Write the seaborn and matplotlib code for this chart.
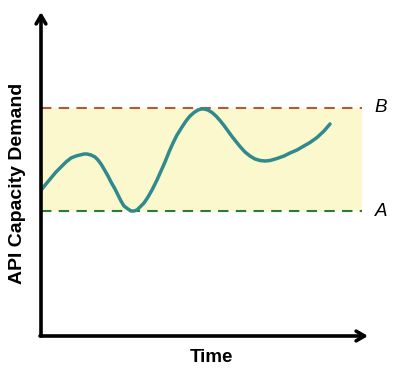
import matplotlib
matplotlib.use("Agg")
import matplotlib.pyplot as plt
import seaborn as sns
import pandas as pd

# demand curve (time, demand)
time = [1, 5, 10, 15, 20, 25, 30, 35, 39, 43, 46, 50, 54, 57, 60, 63,
        67, 70, 74, 77, 80, 83, 87, 90, 93, 96, 99, 103, 107, 111,
        116, 120, 124, 128, 132, 136, 141, 145, 149, 153, 157, 160, 163,
        167, 171, 175, 179, 183, 187, 191, 195, 199, 204, 209, 214, 219,
        224, 229, 236, 243, 249, 256, 262, 269, 276, 283, 289]
demand = [147, 152, 158, 164, 169, 174, 178, 180, 181, 182, 182, 181, 179, 176, 172, 167,
          160, 154, 147, 141, 135, 130, 127, 125, 125, 126, 129, 133, 139, 146,
          156, 165, 174, 184, 193, 201, 209, 215, 220, 223.5, 226, 227, 227,
          226, 223.5, 220, 215.5, 210.5, 205, 199.5, 194.5, 189.5, 184, 180, 177, 175.5,
          175, 175.5, 177.5, 180, 183, 186, 189.5, 193.5, 198.5, 205, 212]

level_a = 125
level_b = 228
band_end = 321
x_max = 329
y_max = 326

df = pd.DataFrame({"Time": time, "Demand": demand})

sns.set_style("white")
plt.rcParams["font.family"] = ["Liberation Sans", "DejaVu Sans"]
plt.rcParams["text.color"] = "black"

fig = plt.figure(figsize=(4.0, 3.74), dpi=100)
ax = fig.add_axes([41 / 400, 38 / 374, 329 / 400, 326 / 374])
ax.set_xlim(0, x_max)
ax.set_ylim(0, y_max)

ax.fill_between([0, band_end], level_a, level_b, color="#FBF8CD", lw=0)
ax.hlines(level_b, 0, band_end, colors="#B05A3C", lw=1.5, linestyles=(0, (5, 3.5)))
ax.hlines(level_a, 0, band_end, colors="#2A7A3A", lw=1.5, linestyles=(0, (5, 3.5)))

sns.lineplot(data=df, x="Time", y="Demand", ax=ax, color="#2E8A8C", lw=2.5,
             sort=False, estimator=None)
ax.lines[-1].set_solid_capstyle("round")
ax.lines[-1].set_solid_joinstyle("round")

for s in ax.spines.values():
    s.set_visible(False)
ax.set_xticks([])
ax.set_yticks([])
ax.set_xlabel("")
ax.set_ylabel("")

arrow = dict(arrowstyle="->,head_length=0.6,head_width=0.35", lw=2.6, color="black",
             shrinkA=0, shrinkB=0)
ax.annotate("", xy=(0, y_max - 2), xytext=(0, 0), arrowprops=arrow, annotation_clip=False)
ax.annotate("", xy=(x_max - 2, 0), xytext=(-1, 0), arrowprops=arrow, annotation_clip=False)

ax.text(band_end + 19, level_b, "B", fontsize=13.5, style="italic", ha="center", va="center")
ax.text(band_end + 19, level_a, "A", fontsize=13.5, style="italic", ha="center", va="center")

fig.text(211 / 400, 1 - 358 / 374, "Time", fontsize=13.5, fontweight="bold", ha="center", va="center")
fig.text(18 / 400, 1 - 183 / 374, "API Capacity Demand", fontsize=14, fontweight="bold",
         rotation=90, ha="center", va="center")

fig.savefig("out.png", dpi=100)
